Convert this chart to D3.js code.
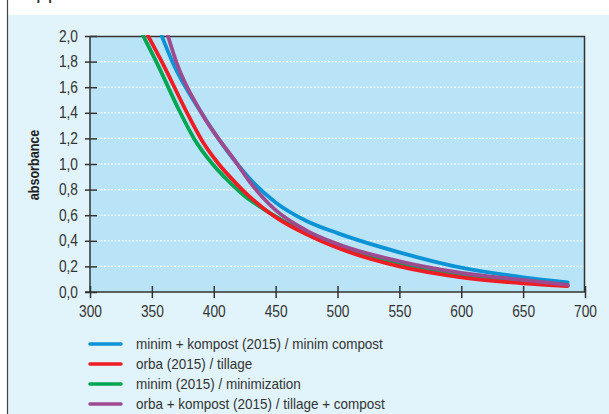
<!DOCTYPE html>
<html>
<head>
<meta charset="utf-8">
<script src="https://cdn.jsdelivr.net/npm/d3@7"></script>
<style>
  body { margin: 0; background: #fff; }
  svg { display: block; }
</style>
</head>
<body>
<div id="chart"></div>
<script>
(function () {
    // wavelength (nm) / absorbance points
    const blueWl = [358, 367, 390, 419, 432, 450, 475, 500, 550, 600, 650, 686]
    const blueAbs = [2.0, 1.79, 1.40, 1.0, 0.855, 0.70, 0.555, 0.46, 0.31, 0.19, 0.115, 0.075]

    const redWl = [347, 358, 380, 392, 404, 415, 425, 440, 450, 475, 500, 550, 600, 650, 686]
    const redAbs = [2.0, 1.80, 1.37, 1.16, 1.0, 0.88, 0.78, 0.655, 0.585, 0.45, 0.345, 0.20, 0.115, 0.068, 0.047]

    const greenWl = [343, 354, 372, 384, 399, 411, 425, 440, 450, 475, 500, 550, 600, 650, 686]
    const greenAbs = [2.0, 1.79, 1.42, 1.20, 1.0, 0.875, 0.75, 0.65, 0.59, 0.46, 0.365, 0.225, 0.14, 0.088, 0.05]

    const purpleWl = [363, 370, 390, 419, 428, 440, 450, 475, 500, 550, 600, 650, 686]
    const purpleAbs = [2.0, 1.79, 1.40, 1.0, 0.875, 0.735, 0.64, 0.48, 0.375, 0.24, 0.15, 0.094, 0.055]

    const seriesNames = [
        "minim + kompost (2015) / minim compost",
        "orba (2015) / tillage",
        "minim (2015) / minimization",
        "orba + kompost (2015) / tillage + compost"
    ]
    const seriesColors = ["#0b93d6", "#ee1d25", "#00a651", "#9e4a8f"]

    const xTicks = [300, 350, 400, 450, 500, 550, 600, 650, 700]
    const yTicks = [0, 0.2, 0.4, 0.6, 0.8, 1.0, 1.2, 1.4, 1.6, 1.8, 2.0]

    const toPoints = (wl, ab) => wl.map((w, i) => ({ wl: w, abs: ab[i] }))
    const series = [
        toPoints(blueWl, blueAbs),
        toPoints(redWl, redAbs),
        toPoints(greenWl, greenAbs),
        toPoints(purpleWl, purpleAbs)
    ]
    // purple drawn on top of blue like the original
    const drawOrder = [0, 2, 1, 3]

    const W = 609, H = 414
    const margin = { top: 36, right: 24, bottom: 122, left: 90 }
    const width = W - margin.left - margin.right,
        height = H - margin.top - margin.bottom

    // no condensed font installed, so squeeze Liberation Sans horizontally
    const font = "'Liberation Sans', Arial, sans-serif"
    const tickSqueeze = 0.86

    const svg = d3.select("#chart")
        .append("svg")
        .attr("width", W)
        .attr("height", H)

    // page background + frame
    svg.append("rect").attr("x", 0).attr("y", 0).attr("width", W).attr("height", H).attr("fill", "#fff")
    svg.append("rect").attr("x", 7).attr("y", 15).attr("width", W - 7).attr("height", H - 15).attr("fill", "#e1f3fb")
    svg.append("line").attr("x1", 7.5).attr("x2", 7.5).attr("y1", 0).attr("y2", H)
        .attr("stroke", "#444").attr("stroke-width", 1.2)

    // title, mostly cut off by the top edge
    svg.append("text")
        .attr("x", 22)
        .attr("y", -1)
        .style("font-family", font)
        .style("font-size", "21px")
        .style("fill", "#333")
        .text("Approximate absorbance curves from the test area of the local soil agency")

    const g = svg.append("g")
        .attr("transform", "translate(" + margin.left + "," + margin.top + ")")

    const x = d3.scaleLinear().domain([300, 700]).range([0, width])
    const y = d3.scaleLinear().domain([0, 2]).range([height, 0])

    g.append("rect")
        .attr("width", width)
        .attr("height", height)
        .attr("fill", "#b9e4f8")

    // dotted white gridlines
    g.selectAll(".grid")
        .data(yTicks.filter(d => d > 0 && d < 2))
        .enter().append("line")
        .attr("class", "grid")
        .attr("x1", 0).attr("x2", width)
        .attr("y1", d => y(d)).attr("y2", d => y(d))
        .attr("stroke", "#fff")
        .attr("stroke-width", 1.1)
        .attr("stroke-dasharray", "2,1.5")

    // frame top / right
    g.append("path")
        .attr("d", "M0,0.5H" + (width - 0.5) + "V" + height)
        .attr("fill", "none")
        .attr("stroke", "#333")
        .attr("stroke-width", 1.5)

    const clip = g.append("clipPath").attr("id", "plotclip")
    clip.append("rect").attr("x", 0).attr("y", -1).attr("width", width).attr("height", height + 1)

    const line = d3.line()
        .x(d => x(d.wl))
        .y(d => y(d.abs))
        .curve(d3.curveMonotoneX)

    g.append("g")
        .attr("clip-path", "url(#plotclip)")
        .selectAll(".curve")
        .data(drawOrder)
        .enter().append("path")
        .attr("class", "curve")
        .attr("d", i => line(series[i]))
        .attr("fill", "none")
        .attr("stroke", i => seriesColors[i])
        .attr("stroke-width", 3.8)
        .attr("stroke-linecap", "round")
        .attr("stroke-linejoin", "round")

    // axes: ticks cross the axis line
    const yAxis = g.append("g")
        .attr("class", "axis y-axis")
        .call(d3.axisLeft(y).tickValues(yTicks).tickSize(0)
            .tickFormat(d => d3.format(".1f")(d).replace(".", ",")))
    yAxis.select(".domain").remove()
    yAxis.selectAll(".tick").append("line")
        .attr("x1", -5).attr("x2", 7)
        .attr("stroke", "#333").attr("stroke-width", 1.5)
    yAxis.selectAll("text")
        .attr("x", -12 / tickSqueeze)
        .attr("transform", "scale(" + tickSqueeze + ",1)")
        .style("font-family", font)
        .style("font-size", "16px")
        .style("fill", "#333")

    const xAxis = g.append("g")
        .attr("class", "axis x-axis")
        .attr("transform", "translate(0," + height + ")")
        .call(d3.axisBottom(x).tickValues(xTicks).tickSize(0))
    xAxis.select(".domain").remove()
    xAxis.selectAll(".tick").append("line")
        .attr("y1", -6).attr("y2", 6)
        .attr("stroke", "#333").attr("stroke-width", 1.5)
    xAxis.selectAll("text")
        .attr("y", 14)
        .attr("transform", "scale(" + tickSqueeze + ",1)")
        .style("font-family", font)
        .style("font-size", "16px")
        .style("fill", "#333")

    g.append("line")
        .attr("x1", -5).attr("x2", width)
        .attr("y1", height).attr("y2", height)
        .attr("stroke", "#333").attr("stroke-width", 1.5)
    g.append("line")
        .attr("x1", 0).attr("x2", 0)
        .attr("y1", 0).attr("y2", height)
        .attr("stroke", "#333").attr("stroke-width", 1.5)

    g.append("text")
        .attr("transform", "translate(-51," + (height / 2 + 1) + ") rotate(-90) scale(0.9,1)")
        .attr("text-anchor", "middle")
        .style("font-family", font)
        .style("font-weight", "bold")
        .style("font-size", "14px")
        .style("fill", "#222")
        .text("absorbance")

    // legend
    const legend = svg.append("g").attr("transform", "translate(89,344)")
    const rows = legend.selectAll(".row")
        .data(seriesNames)
        .enter().append("g")
        .attr("transform", (d, i) => "translate(0," + i * 20 + ")")
    rows.append("line")
        .attr("x1", 1).attr("x2", 32)
        .attr("stroke", (d, i) => seriesColors[i])
        .attr("stroke-width", 3.5)
        .attr("stroke-linecap", "round")
    rows.append("text")
        .attr("transform", "translate(47,5) scale(0.9,1)")
        .style("font-family", font)
        .style("font-size", "15px")
        .style("fill", "#333")
        .text(d => d)
})()
</script>
</body>
</html>
